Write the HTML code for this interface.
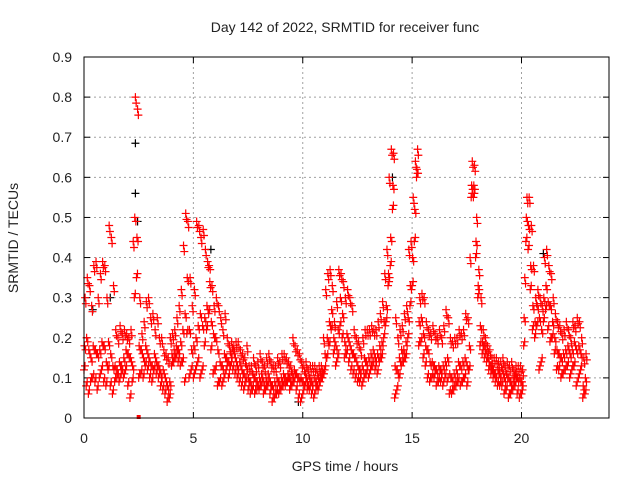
<!DOCTYPE html>
<html><head><meta charset="utf-8"><style>
body{margin:0;background:#fff}
svg{display:block;font-family:"Liberation Sans",sans-serif}
</style></head><body>
<svg id="chart" width="640" height="480" viewBox="0 0 640 480">
<rect width="640" height="480" fill="#fff"/>
<text x="345" y="32" font-size="14" text-anchor="middle" fill="#222">Day 142 of 2022, SRMTID for receiver func</text>
<text x="345" y="471" font-size="14" text-anchor="middle" fill="#222">GPS time / hours</text>
<text transform="translate(18,238) rotate(-90)" font-size="14" text-anchor="middle" fill="#222">SRMTID / TECUs</text>
<g id="grid"></g>
<g id="axes"></g>
<g id="marks"></g>
<rect x="84" y="57" width="525" height="361" fill="none" stroke="#000" stroke-width="1"/>
</svg>
<script>
const xTicks=[0,5,10,15,20];
const yTicks=[0,0.1,0.2,0.3,0.4,0.5,0.6,0.7,0.8,0.9];
const yTickLabels=["0","0.1","0.2","0.3","0.4","0.5","0.6","0.7","0.8","0.9"];
const binStart=0, binStep=0.1;
const redHi=[.30,.35,.33,.28,.38,.39,.30,.36,.39,.38,
.30,.48,.45,.33,.22,.20,.23,.21,.22,.21,
.20,.22,.44,.80,.77,.30,.21,.24,.29,.30,
.25,.26,.22,.25,.20,.20,.17,.16,.15,.20,
.21,.22,.25,.28,.32,.43,.51,.49,.35,.28,
.32,.49,.48,.45,.47,.42,.39,.34,.33,.28,
.30,.28,.25,.22,.26,.20,.18,.19,.18,.19,
.19,.17,.16,.15,.18,.13,.13,.15,.13,.14,
.16,.14,.13,.15,.16,.14,.13,.13,.15,.14,
.16,.16,.15,.14,.13,.20,.18,.17,.16,.14,
.13,.14,.12,.13,.13,.13,.12,.13,.13,.20,
.32,.36,.37,.33,.24,.29,.37,.36,.34,.30,
.32,.30,.28,.22,.20,.19,.17,.20,.22,.22,
.22,.23,.22,.22,.24,.26,.29,.36,.42,.60,
.67,.66,.25,.20,.22,.23,.26,.28,.42,.44,
.55,.64,.67,.30,.31,.30,.24,.22,.21,.23,
.21,.20,.22,.20,.23,.27,.25,.20,.19,.20,
.20,.22,.21,.22,.26,.25,.40,.64,.63,.50,
.37,.30,.22,.20,.18,.17,.15,.15,.15,.14,
.14,.15,.13,.14,.13,.14,.12,.13,.13,.13,
.12,.35,.55,.55,.48,.38,.30,.32,.30,.28,
.40,.42,.38,.36,.30,.26,.24,.23,.21,.22,
.24,.22,.20,.24,.23,.25,.24,.20,.15,.16];
const redMid=[.18,.20,.17,.15,.18,.17,.16,.17,.19,.18,
.14,.19,.16,.13,.13,.12,.14,.13,.15,.17,
.16,.15,.13,.50,.45,.18,.17,.15,.18,.16,
.14,.13,.16,.14,.13,.11,.12,.10,.08,.09,
.16,.17,.18,.17,.19,.22,.26,.35,.22,.17,
.18,.20,.23,.26,.23,.25,.28,.38,.24,.21,
.20,.17,.14,.13,.16,.15,.14,.16,.17,.15,
.13,.14,.12,.11,.13,.10,.09,.11,.10,.09,
.10,.11,.09,.10,.11,.09,.08,.09,.10,.09,
.10,.11,.10,.11,.10,.11,.12,.11,.10,.10,
.09,.11,.09,.10,.09,.10,.09,.10,.11,.12,
.16,.20,.24,.27,.20,.18,.22,.30,.26,.19,
.21,.19,.17,.16,.15,.13,.12,.13,.15,.14,
.15,.16,.17,.15,.16,.18,.19,.24,.28,.36,
.45,.58,.13,.12,.15,.17,.17,.19,.25,.33,
.40,.52,.62,.24,.25,.21,.18,.17,.14,.14,
.13,.12,.13,.12,.13,.14,.15,.11,.10,.11,
.12,.14,.13,.14,.15,.13,.18,.58,.58,.44,
.33,.23,.19,.18,.16,.14,.13,.12,.11,.12,
.11,.12,.10,.11,.10,.09,.10,.11,.10,.10,
.09,.25,.50,.48,.38,.28,.24,.28,.25,.22,
.30,.33,.29,.28,.24,.20,.17,.16,.15,.16,
.17,.18,.16,.17,.19,.17,.18,.16,.08,.10];
const redLo=[.12,.08,.06,.09,.10,.09,.07,.10,.12,.09,
.08,.12,.08,.06,.09,.10,.09,.11,.10,.12,
.08,.05,.09,.30,.35,.10,.11,.10,.13,.12,
.10,.09,.12,.11,.10,.08,.07,.06,.04,.05,
.13,.14,.15,.14,.13,.14,.09,.21,.10,.12,
.10,.12,.14,.10,.12,.18,.22,.26,.17,.11,
.12,.08,.09,.08,.10,.12,.10,.13,.12,.11,
.10,.09,.08,.07,.09,.07,.06,.07,.06,.07,
.07,.08,.06,.07,.08,.06,.04,.05,.06,.06,
.07,.08,.08,.09,.07,.08,.09,.07,.05,.04,
.06,.08,.07,.07,.06,.05,.07,.07,.09,.10,
.12,.15,.18,.22,.16,.13,.15,.23,.20,.15,
.16,.14,.12,.11,.10,.09,.09,.08,.10,.11,
.10,.12,.13,.12,.11,.14,.15,.20,.24,.33,
.38,.52,.05,.07,.10,.13,.14,.15,.20,.28,
.33,.44,.60,.18,.19,.15,.13,.10,.09,.10,
.10,.08,.09,.09,.08,.10,.09,.06,.06,.07,
.08,.09,.08,.09,.10,.08,.12,.55,.55,.40,
.30,.18,.16,.15,.14,.12,.11,.10,.09,.08,
.08,.08,.06,.07,.05,.06,.07,.08,.06,.05,
.06,.18,.44,.42,.32,.22,.20,.23,.12,.14,
.24,.27,.22,.19,.20,.16,.12,.12,.10,.11,
.12,.13,.10,.12,.13,.08,.10,.12,.05,.06];
const blackHours=[0.4,2.35,2.35,2.45,5.8,14.1,21.0,9.8,1.2];
const blackValues=[0.27,0.685,0.56,0.49,0.42,0.60,0.41,0.04,0.30];

const X0=84,X1=609,Y0=418,Y1=57;
function xs(h){return X0+(h-0)/(24-0)*(X1-X0);}
function ys(v){return Y0-(v-0)/(0.9-0)*(Y0-Y1);}
const NS="http://www.w3.org/2000/svg";
const grid=document.getElementById('grid'),axes=document.getElementById('axes'),marks=document.getElementById('marks');
function mk(tag,attrs,parent){const e=document.createElementNS(NS,tag);for(const k in attrs)e.setAttribute(k,attrs[k]);parent.appendChild(e);return e;}
xTicks.forEach((t,i)=>{const x=xs(t);
 if(t>0){const g=mk('line',{x1:x,x2:x,y1:Y1,y2:Y0,stroke:'#a0a0a0','stroke-dasharray':'2,3'},grid);
 
 }
 mk('line',{x1:x,x2:x,y1:Y0,y2:Y0-6,stroke:'#000'},axes);
 mk('line',{x1:x,x2:x,y1:Y1,y2:Y1+6,stroke:'#000'},axes);
 const l=mk('text',{x:x,y:443,'font-size':14,'text-anchor':'middle',fill:'#222'},axes);l.textContent=String(t);
 
 
});
yTicks.forEach((t,i)=>{const y=ys(t);
 if(t>0&&t<0.9){const g=mk('line',{x1:X0,x2:X1,y1:y,y2:y,stroke:'#a0a0a0','stroke-dasharray':'2,3'},grid);
 
 }
 mk('line',{x1:X0,x2:X0+6,y1:y,y2:y,stroke:'#000'},axes);
 mk('line',{x1:X1,x2:X1-6,y1:y,y2:y,stroke:'#000'},axes);
 const l=mk('text',{x:72,y:y+5,'font-size':14,'text-anchor':'end',fill:'#222'},axes);l.textContent=yTickLabels[i];
 
 
});
function plus(h,v,color){const x=xs(h),y=ys(v);
 const p=mk('path',{d:`M${x-4},${y}H${x+4}M${x},${y-4}V${y+4}`,stroke:color,'stroke-width':1.2,fill:'none'},marks);
 
 
}
blackHours.forEach((h,i)=>plus(h,blackValues[i],'#000'));
redHi.forEach((v,i)=>{const t=binStart+i*binStep;
 plus(t,redLo[i],'#f00');
 plus(t+binStep*0.45,redLo[i]+0.01,'#f00');
 plus(t+binStep*0.2,redMid[i],'#f00');
 plus(t+binStep*0.7,redMid[i]-0.01,'#f00');
 plus(t+binStep*0.5,v,'#f00');
 plus(t+binStep*0.85,v-0.015,'#f00');
});
const sq=mk('rect',{x:xs(2.5)-2,y:ys(0)-3,width:4,height:4,fill:'#f00'},marks);


</script>
</body></html>
